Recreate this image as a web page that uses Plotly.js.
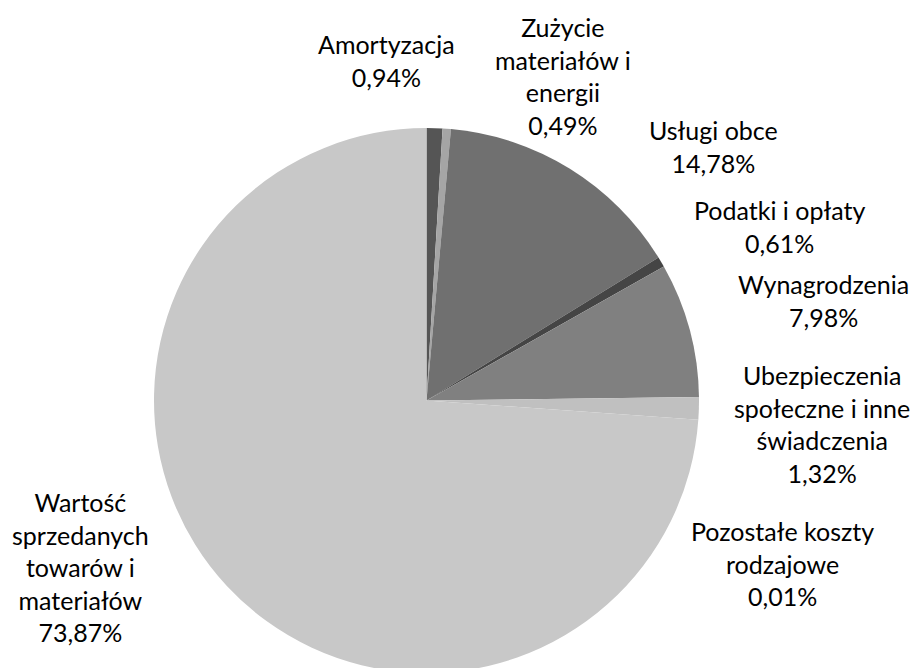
<!DOCTYPE html>
<html>
<head>
<meta charset="utf-8">
<script src="https://cdn.plot.ly/plotly-3.0.1.min.js"></script>
<style>
html, body { margin: 0; padding: 0; overflow: hidden; background: #fff; }
#chart { width: 912px; height: 677px; }
</style>
</head>
<body>
<div id="chart"></div>
<script>
// Data
var categories = [
  "Amortyzacja",
  "Zużycie materiałów i energii",
  "Usługi obce",
  "Podatki i opłaty",
  "Wynagrodzenia",
  "Ubezpieczenia społeczne i inne świadczenia",
  "Pozostałe koszty rodzajowe",
  "Wartość sprzedanych towarów i materiałów"
];
var values = [0.94, 0.49, 14.78, 0.61, 7.98, 1.32, 0.01, 73.87];
var labelLines = [
  ["Amortyzacja"],
  ["Zużycie", "materiałów i", "energii"],
  ["Usługi obce"],
  ["Podatki i opłaty"],
  ["Wynagrodzenia"],
  ["Ubezpieczenia", "społeczne i inne", "świadczenia"],
  ["Pozostałe koszty", "rodzajowe"],
  ["Wartość", "sprzedanych", "towarów i", "materiałów"]
];
var colors = ["#555555", "#a5a5a5", "#707070", "#454545", "#808080", "#c0c0c0", "#ffffff", "#c8c8c8"];

// Label placement (pixel centres of each label block)
var W = 912, H = 677;
var labelPos = [
  [386, 61],
  [563, 76],
  [713, 147],
  [779, 226],
  [823, 300],
  [822, 424],
  [782, 563],
  [80, 567]
];

function fmt(v) { return v.toFixed(2).replace(".", ",") + "%"; }

var annotations = categories.map(function (c, i) {
  return {
    xref: "paper", yref: "paper",
    x: labelPos[i][0] / W, y: 1 - labelPos[i][1] / H,
    xanchor: "center", yanchor: "middle",
    align: "center",
    showarrow: false,
    text: labelLines[i].concat([fmt(values[i])]).join("<br>"),
    font: { family: "Lato, 'Open Sans', sans-serif", size: 25, color: "#000000" }
  };
});

var trace = {
  type: "pie",
  labels: categories,
  values: values,
  sort: false,
  direction: "clockwise",
  rotation: 0,
  textinfo: "none",
  hoverinfo: "none",
  marker: { colors: colors, line: { width: 0 } },
  domain: { x: [154 / W, 699 / W], y: [1 - 673 / H, 1 - 128 / H] }
};

var layout = {
  width: W, height: H,
  margin: { l: 0, r: 0, t: 0, b: 0 },
  paper_bgcolor: "#ffffff",
  showlegend: false,
  annotations: annotations
};

Plotly.newPlot("chart", [trace], layout, { staticPlot: true, displayModeBar: false });
</script>
</body>
</html>
